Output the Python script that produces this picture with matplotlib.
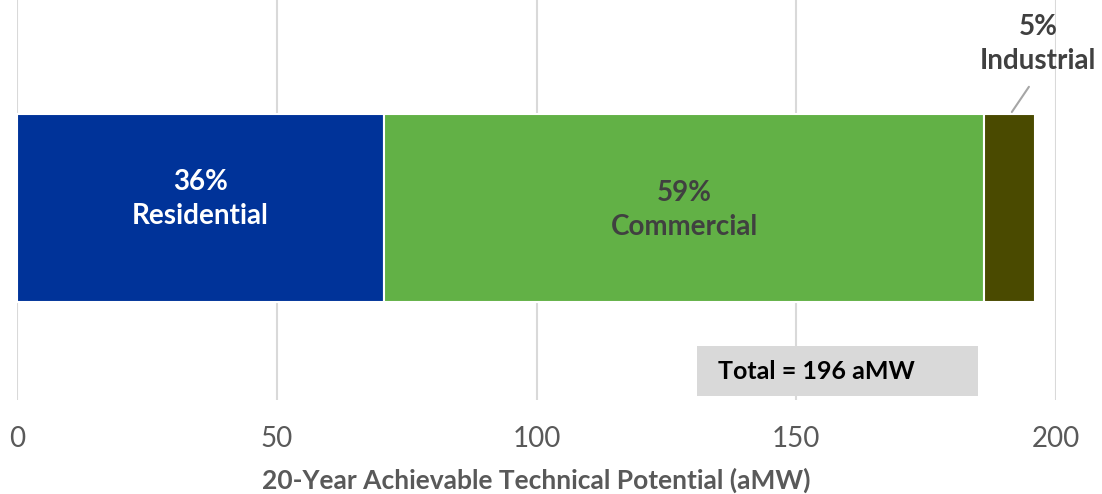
import matplotlib.pyplot as plt
from matplotlib.patches import Rectangle

plt.rcParams['font.family'] = ['Lato', 'DejaVu Sans']

sectors = ['Residential', 'Commercial', 'Industrial']
potential = [70.6, 115.6, 9.8]   # aMW
shares = ['36%', '59%', '5%']
colors = ['#003399', '#62b146', '#4a4a00']
label_colors = ['white', '#404040', '#404040']
total = 196

fig = plt.figure(figsize=(11.02, 4.94), dpi=100)
ax = fig.add_axes([17 / 1102, 1 - 400 / 494, (1056 - 17) / 1102, 400 / 494])

left = 0
for i, (name, val) in enumerate(zip(sectors, potential)):
    ax.barh(0.48, val, left=left, height=0.47, color=colors[i],
            edgecolor='white', linewidth=1.5, zorder=3)
    if name != 'Industrial':
        dy = 0.022 if name == 'Residential' else -0.005
        ax.text(left + val / 2, 0.48 + dy, shares[i] + '\n' + name,
                ha='center', va='center', color=label_colors[i],
                fontsize=20, fontweight='bold', linespacing=1.4, zorder=4)
    left += val

# small segment gets an outside label with a leader line
ind_mid = sum(potential[:2]) + potential[2] / 2
ax.annotate(shares[2] + '\n' + sectors[2], xy=(ind_mid + 0.4, 0.72),
            xytext=(ind_mid + 5.4, 0.89), textcoords='data',
            ha='center', va='center', color='#404040', fontsize=20,
            fontweight='bold', linespacing=1.35, annotation_clip=False,
            arrowprops=dict(arrowstyle='-', color='#a6a6a6', lw=1.5,
                            shrinkA=9, shrinkB=0,
                            relpos=(0.5, 0.0)))

# total box
ax.add_patch(Rectangle((130.9, 0.01), 54.1, 0.125, facecolor='#d9d9d9',
                       edgecolor='none', zorder=3))
ax.text(135.0, 0.0725, 'Total = %d aMW' % total, ha='left', va='center',
        fontsize=18, fontweight='bold', color='black', zorder=4)

ax.set_xlim(0, 200)
ax.set_ylim(0, 1)
ax.set_xticks([0, 50, 100, 150, 200])
ax.set_yticks([])
ax.tick_params(axis='x', length=0, labelsize=20, labelcolor='#595959', pad=19)
ax.grid(axis='x', color='#d9d9d9', linewidth=1.5, zorder=0)
for s in ax.spines.values():
    s.set_visible(False)
ax.set_xlabel('20-Year Achievable Technical Potential (aMW)', fontsize=19,
              fontweight='bold', color='#595959', labelpad=11)

fig.savefig('out.png', dpi=100)
